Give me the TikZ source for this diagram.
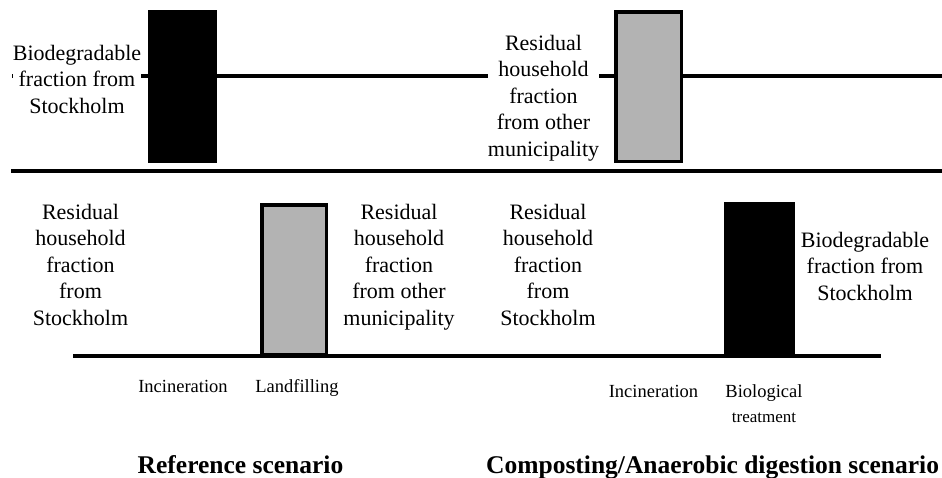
\documentclass[tikz,border=0pt]{standalone}
\usepackage{fontspec}
\setmainfont{Liberation Serif}
\definecolor{boxgray}{HTML}{B3B3B3}
\begin{document}
\begin{tikzpicture}[x=1pt,y=-1pt,
  lbl/.style={inner sep=0pt, align=center, anchor=north, font=\fontsize{22}{26.5}\selectfont},
  wlbl/.style={lbl, fill=white},
  small/.style={inner sep=0pt, anchor=base, font=\fontsize{18.5}{22}\selectfont},
  title/.style={inner sep=0pt, anchor=base, font=\fontsize{25.5}{30}\selectfont\bfseries},
  rule/.style={line width=3.3pt},
  blackbar/.style={fill=black, draw=none},
  graybar/.style={fill=boxgray, draw=black, line width=3.5pt},
]
\useasboundingbox (0,0) rectangle (942,477);
% lines
\coordinate (topL) at (12,76);
\coordinate (topR) at (942,76);
\coordinate (sepL) at (11,171);
\coordinate (sepR) at (942,171);
\coordinate (baseL) at (73,356);
\coordinate (baseR) at (881,356);
\draw[rule] (topL) -- (topR);
\draw[line width=4pt] (sepL) -- (sepR);
\draw[rule] (baseL) -- (baseR);
% bars
\path[blackbar] (148,10) rectangle (217,163);
\path[graybar] (615.75,11.75) rectangle (681.25,161.25);
\path[graybar] (261.75,204.75) rectangle (326.25,354.25);
\path[blackbar] (724,202) rectangle (795,357);
% top texts
\node[wlbl] (tbio) at (77,41.45) {\strut Biodegradable\\ fraction from\\ Stockholm};
\node[wlbl] (tres) at (543.5,31.45) {\strut Residual\\ household\\ fraction\\ from other\\ municipality};
% bottom texts
\node[lbl] (bres1) at (80.5,200.45) {\strut Residual\\ household\\ fraction\\ from\\ Stockholm};
\node[lbl] (bres2) at (399,200.45) {\strut Residual\\ household\\ fraction\\ from other\\ municipality};
\node[lbl] (bres3) at (548,200.45) {\strut Residual\\ household\\ fraction\\ from\\ Stockholm};
\node[lbl] (bbio) at (865,228.45) {\strut Biodegradable\\ fraction from\\ Stockholm};
% small labels
\node[small] (inc1) at (183,392) {Incineration};
\node[small] (land) at (297,392) {Landfilling};
\node[small] (inc2) at (653.5,397) {Incineration};
\node[small] (bio) at (764,397) {Biological};
\node[small, font=\fontsize{17}{20}\selectfont] (treat) at (764,422) {treatment};
% titles
\node[title] (t1) at (240.5,473) {Reference scenario};
\node[title, anchor=base west] (t2) at (486,473) {Composting/Anaerobic digestion scenario};
\end{tikzpicture}
\end{document}
